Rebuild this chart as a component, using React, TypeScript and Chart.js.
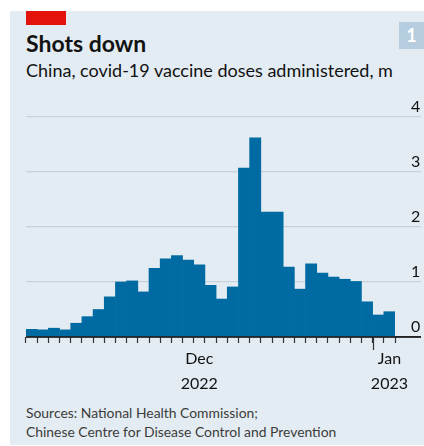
import React, { useEffect, useRef } from "react";
import { Chart, registerables } from "chart.js";

Chart.register(...registerables);

// Daily doses, Dec 1st 2022 to Jan 2nd 2023
const days: string[] = [
  "2022-12-01", "2022-12-02", "2022-12-03", "2022-12-04", "2022-12-05", "2022-12-06",
  "2022-12-07", "2022-12-08", "2022-12-09", "2022-12-10", "2022-12-11", "2022-12-12",
  "2022-12-13", "2022-12-14", "2022-12-15", "2022-12-16", "2022-12-17", "2022-12-18",
  "2022-12-19", "2022-12-20", "2022-12-21", "2022-12-22", "2022-12-23", "2022-12-24",
  "2022-12-25", "2022-12-26", "2022-12-27", "2022-12-28", "2022-12-29", "2022-12-30",
  "2022-12-31", "2023-01-01", "2023-01-02",
];

// Vaccine doses administered, millions
const doses: number[] = [
  0.14, 0.13, 0.16, 0.13, 0.25, 0.37, 0.5, 0.73, 1.0, 1.02, 0.82,
  1.25, 1.42, 1.48, 1.4, 1.31, 0.94, 0.69, 0.91, 3.07, 3.62, 2.27,
  2.27, 1.27, 0.87, 1.33, 1.16, 1.09, 1.05, 1.01, 0.64, 0.4, 0.46,
];

// Month labels and the day each is centred on
const monthLabels: string[][] = [["Dec", "2022"], ["Jan", "2023"]];
const monthLabelDays: string[] = ["2022-12-16", "2023-01-02"];
const monthStartDay = "2023-01-01";

const yTicks: number[] = [0, 1, 2, 3, 4];

const FONT = "Lato, 'Noto Sans', sans-serif";
const BG = "#e3ecf2";
const BAR = "#006ba2";
const GRID = "#c6d1da";
const INK = "#121212";

const monthTickPlugin = {
  id: "monthTick",
  afterDatasetsDraw(chart: any) {
    const { ctx, chartArea, scales } = chart;
    const x = scales.x;
    const y = scales.y;
    const i = days.indexOf(monthStartDay);
    const px = (x.getPixelForValue(i - 1) + x.getPixelForValue(i)) / 2;
    const base = y.getPixelForValue(0);
    ctx.save();
    // baseline over the bars
    ctx.strokeStyle = "#222";
    ctx.lineWidth = 1.5;
    ctx.beginPath();
    ctx.moveTo(chartArea.left, base);
    ctx.lineTo(chartArea.right + 26, base);
    ctx.stroke();
    // longer tick at the turn of the year
    ctx.lineWidth = 1.2;
    ctx.strokeStyle = "#333";
    ctx.beginPath();
    ctx.moveTo(Math.round(px) + 0.5, base);
    ctx.lineTo(Math.round(px) + 0.5, base + 13);
    ctx.stroke();
    ctx.restore();
  },
};

function DosesChart() {
  const ref = useRef<HTMLCanvasElement>(null);
  useEffect(() => {
    if (!ref.current) return;
    const chart = new Chart(ref.current, {
      type: "bar",
      data: {
        labels: days,
        datasets: [
          {
            data: doses,
            backgroundColor: BAR,
            borderWidth: 0,
            barPercentage: 1,
            categoryPercentage: 1,
          },
        ],
      },
      options: {
        responsive: false,
        animation: false,
        events: [],
        layout: { padding: { left: 16, top: 27, right: 0, bottom: 0 } },
        plugins: { legend: { display: false }, tooltip: { enabled: false }, title: { display: false } },
        scales: {
          x: {
            type: "category",
            offset: true,
            border: { display: false },
            grid: {
              offset: true,
              drawOnChartArea: false,
              drawTicks: true,
              tickLength: 6,
              tickColor: "#333",
              tickWidth: 1.2,
            },
            ticks: {
              autoSkip: false,
              maxRotation: 0,
              minRotation: 0,
              padding: 3,
              color: INK,
              font: { family: FONT, size: 16, lineHeight: 25 / 16 },
              callback: (_v: any, index: number) => {
                const k = monthLabelDays.indexOf(days[index]);
                return k >= 0 ? monthLabels[k] : "";
              },
            },
            afterFit: (scale: any) => {
              scale.height = 63;
            },
          },
          y: {
            position: "right",
            min: 0,
            max: 4,
            border: { display: false },
            afterBuildTicks: (scale: any) => {
              scale.ticks = yTicks.map((v) => ({ value: v }));
            },
            afterFit: (scale: any) => {
              scale.width = 29;
            },
            grid: {
              drawTicks: true,
              tickLength: 26,
              color: (c: any) => (c.tick && c.tick.value === 0 ? "#222" : GRID),
              tickColor: (c: any) => (c.tick && c.tick.value === 0 ? "#222" : GRID),
              lineWidth: (c: any) => (c.tick && c.tick.value === 0 ? 1.5 : 1.2),
              tickWidth: (c: any) => (c.tick && c.tick.value === 0 ? 1.5 : 1.2),
            },
            ticks: {
              padding: -10,
              labelOffset: -10,
              color: INK,
              font: { family: FONT, size: 16 },
              callback: (v: any) => String(v),
            },
          },
        },
      },
      plugins: [monthTickPlugin],
    });
    return () => chart.destroy();
  }, []);
  return (
    <canvas
      ref={ref}
      width={414}
      height={310}
      style={{ position: "absolute", left: 10, top: 90, width: 414, height: 310 }}
    />
  );
}

export default function App() {
  return (
    <div
      style={{
        position: "fixed",
        left: 0,
        top: 0,
        width: 424,
        height: 446,
        background: "#fff",
        overflow: "hidden",
        fontFamily: FONT,
        color: INK,
      }}
    >
      <div style={{ position: "absolute", left: 10, top: 11, width: 414, height: 434, background: BG }} />
      <div style={{ position: "absolute", left: 26, top: 11, width: 40, height: 13.5, background: "#e3120b" }} />
      <div
        style={{
          position: "absolute",
          left: 399,
          top: 22,
          width: 25,
          height: 27,
          background: "#b5cddf",
          color: "#fff",
          fontWeight: 700,
          fontSize: 18,
          lineHeight: "27px",
          textAlign: "center",
        }}
      >
        1
      </div>
      <div style={{ position: "absolute", left: 26, top: 32, fontSize: 23, lineHeight: "23px", fontWeight: 700, whiteSpace: "nowrap" }}>
        Shots down
      </div>
      <div style={{ position: "absolute", left: 26, top: 61, fontSize: 18, lineHeight: "18px", whiteSpace: "nowrap" }}>
        China, covid-19 vaccine doses administered, m
      </div>
      <DosesChart />
      <div style={{ position: "absolute", left: 26, top: 404, fontSize: 13.9, lineHeight: "18.7px", color: "#3c3c3c", whiteSpace: "nowrap" }}>
        Sources: National Health Commission;
        <br />
        Chinese Centre for Disease Control and Prevention
      </div>
    </div>
  );
}
